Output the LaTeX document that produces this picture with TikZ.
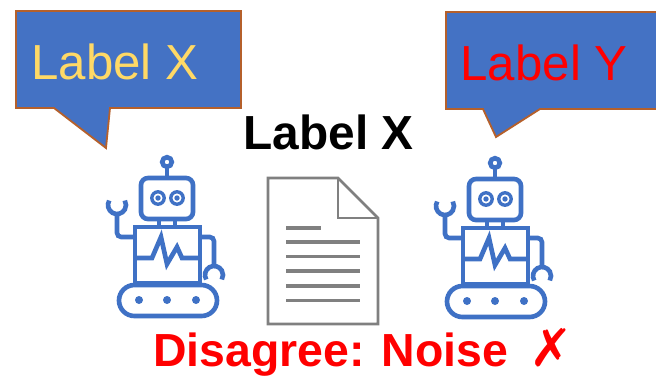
\documentclass[tikz,border=0pt]{standalone}
\usepackage{fontspec}
\setmainfont{Liberation Sans}
\newfontfamily\marksfont{DejaVu Sans}

\definecolor{bubbleblue}{HTML}{4472C4}
\definecolor{bubbleedge}{HTML}{B5602B}
\definecolor{robotblue}{HTML}{3F71C5}
\definecolor{docgray}{HTML}{808080}
\definecolor{labelyellow}{HTML}{FFD966}

\tikzset{
    bubble/.style={fill=bubbleblue, draw=bubbleedge, line width=1.3pt, line join=miter},
    bubbletext/.style={anchor=base, inner sep=0pt, font=\fontsize{35}{40}\selectfont},
    robotline/.style={draw=robotblue, line width=3.3pt},
    robot/.pic={
        % antenna and head
        \draw[robotline] (0,0) circle (4.8);
        \draw[robotline] (0,4.8) -- (0,16);
        \draw[robotline, rounded corners=5pt] (-26,16) rectangle (26,57);
        \draw[robotline, line width=2.4pt] (-9,36) circle (6.2) (10,36) circle (6.2);
        \fill[robotblue] (-9,36) circle (2.7) (10,36) circle (2.7);
        % neck and body
        \draw[robotline] (-8,57) -- (-8,65) (8,57) -- (8,65);
        \draw[robotline] (-32,65) rectangle (33,121);
        \draw[robotline, line join=miter] (-32,96) -- (-15,96) -- (-6,75) -- (0,102) -- (10,85) -- (15,96) -- (33,96);
        % arms
        \draw[robotline, rounded corners=3pt] (-32,75) -- (-50,75) -- (-50,52);
        \draw[robotline] (-50,43) ++(210:9) arc[start angle=210, end angle=-30, radius=9];
        \draw[robotline, rounded corners=3pt] (33,75) -- (47,75) -- (47,104);
        \draw[robotline] (47,113) ++(150:9) arc[start angle=150, end angle=390, radius=9];
        % tread
        \draw[robotline, rounded corners=11pt] (-48,123) rectangle (50,154);
        \foreach \dx in {-28,0,29}
            \fill[robotblue] (\dx,138) circle (4);
    },
}

\begin{document}
\begin{tikzpicture}[x=0.025cm, y=-0.025cm]
    \useasboundingbox (0,0) rectangle (656,378);
    \clip (0,0) rectangle (656,378);

    % speech bubbles
    \draw[bubble] (16,11) -- (241,11) -- (241,108) -- (110,108) -- (106,148) -- (54,108) -- (16,108) -- cycle;
    \draw[bubble] (446,12) -- (662,12) -- (662,109) -- (540,109) -- (496,137) -- (483,109) -- (446,109) -- cycle;
    \node[bubbletext, text=labelyellow] (sayx) at (115,79) {Label X};
    \node[bubbletext, text=red] (sayy) at (544,80) {Label Y};

    % given label
    \node[anchor=base, inner sep=0pt, font=\fontsize{34}{40}\selectfont\bfseries] (given) at (328.5,149) {Label X};

    % the two robots
    \pic at (167,162) {robot};
    \pic at (495,163) {robot};

    % document
    \draw[docgray, line width=1.9pt, line join=miter] (268,178) -- (338,178) -- (378,218) -- (378,324) -- (268,324) -- cycle;
    \draw[docgray, line width=1.9pt, line join=miter] (338,178) -- (338,218) -- (378,218);
    \draw[docgray, line width=2.3pt] (286,228) -- (321,228);
    \foreach \ly in {242,256.5,271,286,300.5}
        \draw[docgray, line width=2.3pt] (286,\ly) -- (360,\ly);

    % verdict
    \node[anchor=base west, inner sep=0pt, text=red, font=\fontsize{33}{40}\selectfont\bfseries] (verdict) at (153,366) {Disagree: Noise\hspace{0.45em}{\marksfont\mdseries\fontsize{37}{40}\selectfont ✗}};
\end{tikzpicture}
\end{document}
